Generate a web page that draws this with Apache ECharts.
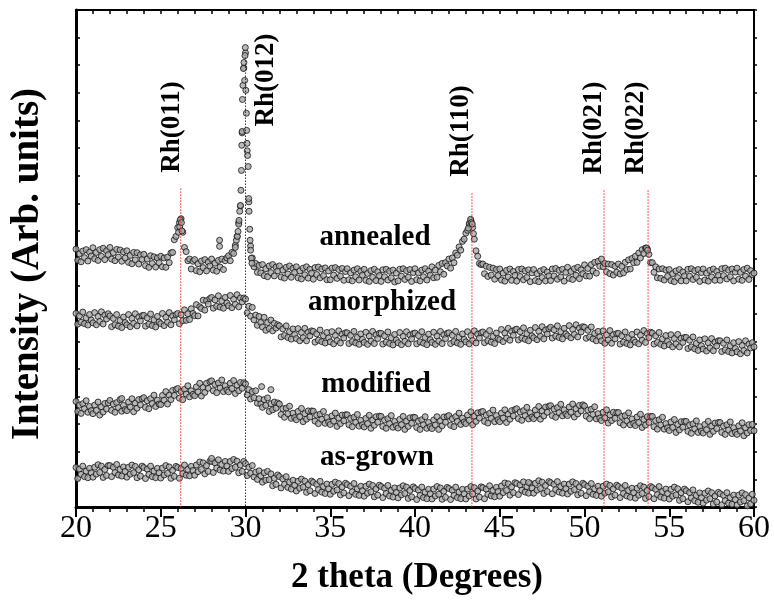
<!DOCTYPE html>
<html><head><meta charset="utf-8">
<script src="https://cdn.jsdelivr.net/npm/echarts@6/dist/echarts.min.js"></script>
<style>html,body{margin:0;padding:0;background:#fff}#c{width:774px;height:600px}</style>
</head><body><div id="c"></div>
<script>
// 2-theta sampling grid: 20.0 .. 60.0 in 0.1 degree steps
const thetaStart = 20.0;
const thetaStep = 0.1;
const xTicks = ['20','25','30','35','40','45','50','55','60'];

const annealedY = [
9.34,8.94,9.17,8.88,9.27,9.03,9.32,8.91,9.23,9.09,
9.39,8.99,9.22,8.93,9.32,9.08,9.37,8.96,9.28,9.14,
9.40,8.98,9.21,8.92,9.33,9.05,9.31,8.90,9.24,9.02,
9.28,8.86,9.11,8.81,9.22,8.95,9.21,8.80,9.13,8.97,
9.15,8.74,8.98,8.68,9.10,8.82,9.06,8.69,9.02,8.85,
9.08,8.70,9.02,8.68,9.05,8.85,9.20,9.22,9.68,9.80,
10.12,10.30,10.44,9.95,9.40,9.25,8.92,8.98,8.62,8.90,
8.96,8.56,8.81,8.52,8.91,8.67,8.96,8.55,8.87,8.73,
8.98,8.58,8.83,8.54,8.93,8.69,8.98,8.60,8.92,9.02,
9.10,8.92,9.22,9.18,9.48,9.80,10.30,10.90,13.55,15.90,
16.45,12.90,11.05,9.45,9.02,8.70,8.82,8.50,8.75,8.48,
8.78,8.38,8.63,8.34,8.73,8.49,8.78,8.37,8.69,8.55,
8.73,8.33,8.58,8.29,8.68,8.44,8.73,8.32,8.64,8.50,
8.70,8.30,8.55,8.26,8.65,8.41,8.70,8.29,8.61,8.47,
8.25,8.67,8.42,8.69,8.30,8.62,8.38,8.66,8.23,8.55,
8.23,8.65,8.40,8.67,8.28,8.60,8.36,8.64,8.21,8.53,
8.63,8.23,8.48,8.19,8.58,8.34,8.63,8.22,8.54,8.40,
8.61,8.21,8.46,8.17,8.56,8.32,8.61,8.20,8.52,8.38,
8.17,8.59,8.34,8.61,8.22,8.54,8.30,8.58,8.15,8.47,
8.19,8.61,8.36,8.63,8.24,8.56,8.32,8.60,8.17,8.49,
8.63,8.23,8.48,8.19,8.58,8.34,8.63,8.22,8.54,8.40,
8.70,8.30,8.58,8.32,8.75,8.52,8.82,8.43,8.85,8.73,
8.98,8.65,9.02,8.85,9.20,9.12,9.42,9.30,9.62,9.70,
9.92,10.02,10.25,10.38,10.12,9.70,9.28,9.08,8.82,8.78,
8.80,8.45,8.72,8.35,8.68,8.40,8.65,8.25,8.60,8.38,
8.62,8.22,8.47,8.18,8.57,8.33,8.62,8.21,8.53,8.39,
8.18,8.60,8.35,8.62,8.23,8.55,8.31,8.59,8.16,8.48,
8.60,8.20,8.45,8.16,8.55,8.31,8.60,8.19,8.51,8.37,
8.20,8.62,8.37,8.64,8.25,8.57,8.33,8.61,8.18,8.50,
8.68,8.28,8.53,8.24,8.63,8.39,8.68,8.27,8.59,8.45,
8.77,8.37,8.64,8.36,8.78,8.55,8.86,8.47,8.90,8.72,
8.98,8.70,8.82,8.52,8.80,8.45,8.78,8.40,8.72,8.50,
8.80,8.44,8.72,8.48,8.86,8.60,8.95,8.62,9.00,8.85,
9.08,8.86,9.20,9.02,9.32,9.18,9.38,9.36,9.15,8.85,
8.85,8.50,8.70,8.30,8.62,8.28,8.63,8.22,8.58,8.35,
8.60,8.20,8.45,8.16,8.55,8.31,8.60,8.19,8.51,8.37,
8.19,8.61,8.36,8.63,8.24,8.56,8.32,8.60,8.17,8.49,
8.62,8.22,8.47,8.18,8.57,8.33,8.62,8.21,8.53,8.39,
8.21,8.63,8.38,8.65,8.26,8.58,8.34,8.62,8.19,8.51,
8.65,8.25,8.50,8.21,8.60,8.36,8.65,8.24,8.56,8.42,
8.47];
// extra readings on the sharp annealed peaks: [2theta, intensity]
const annealedExtra = [
[29.40,9.40],[29.46,9.66],[29.52,9.80],[29.56,9.98],[29.60,10.24],[29.62,10.38],[29.66,10.71],
[29.70,10.92],[29.73,11.47],[29.76,12.19],[29.78,13.10],[29.80,13.60],[29.82,14.76],[29.85,15.27],
[29.88,15.88],[29.91,16.10],[29.95,15.45],[29.97,16.35],[29.99,16.64],[30.02,15.09],[30.05,14.26],
[30.07,13.64],[30.09,13.17],[30.12,12.73],[30.16,12.33],[30.19,11.17],[30.21,10.71],[30.25,10.06],
[30.27,9.66],[30.30,9.30],[30.34,9.01],[30.38,8.83],
[28.47,9.66],[28.47,9.44],
[26.05,9.95],[26.12,10.15],[26.15,10.40],[26.22,10.30],[26.25,10.00],
[43.15,10.10],[43.22,10.28],[43.28,10.42],[43.32,10.30],[43.38,10.25],[43.45,9.90],
[53.65,9.38],[53.72,9.30]];

const amorphizedY = [
7.01,6.62,6.92,6.69,7.06,6.64,6.85,6.59,6.97,6.77,
6.67,7.04,6.60,6.90,6.72,7.07,6.63,6.95,6.81,7.00,
6.92,6.53,6.83,6.60,6.97,6.55,6.76,6.50,6.88,6.68,
6.60,6.97,6.53,6.83,6.65,7.00,6.56,6.88,6.74,6.93,
6.94,6.55,6.85,6.62,6.99,6.57,6.78,6.52,6.90,6.70,
6.64,7.01,6.57,6.87,6.69,7.04,6.60,6.92,6.78,6.97,
7.01,6.64,6.96,6.75,7.14,6.76,7.00,6.79,7.18,7.01,
6.93,7.33,6.92,7.25,7.19,7.49,7.13,7.47,7.35,7.55,
7.59,7.20,7.50,7.27,7.65,7.24,7.46,7.20,7.59,7.39,
7.29,7.66,7.22,7.52,7.34,7.69,7.25,7.57,7.43,7.57,
7.53,7.03,7.27,6.91,7.23,6.78,6.95,6.58,6.90,6.68,
6.52,6.87,6.40,6.68,6.46,6.77,6.38,6.65,6.48,6.60,
6.56,6.16,6.45,6.21,6.56,6.14,6.35,6.08,6.45,6.24,
6.10,6.46,6.02,6.32,6.13,6.47,6.02,6.33,6.20,6.38,
6.36,5.97,6.27,6.04,6.41,5.99,6.20,5.94,6.32,6.12,
5.98,6.35,5.91,6.21,6.03,6.38,5.94,6.26,6.12,6.31,
6.31,5.92,6.22,5.99,6.36,5.94,6.15,5.89,6.27,6.07,
5.96,6.33,5.89,6.19,6.01,6.36,5.92,6.24,6.10,6.29,
6.29,5.90,6.20,5.97,6.34,5.92,6.13,5.87,6.25,6.05,
5.95,6.32,5.88,6.18,6.00,6.35,5.91,6.23,6.09,6.28,
6.30,5.91,6.21,5.98,6.35,5.93,6.14,5.88,6.26,6.06,
5.96,6.33,5.89,6.19,6.01,6.36,5.92,6.24,6.10,6.29,
6.31,5.92,6.22,5.99,6.36,5.94,6.15,5.89,6.27,6.07,
5.98,6.35,5.91,6.21,6.03,6.38,5.94,6.26,6.12,6.31,
6.34,5.95,6.25,6.02,6.39,5.97,6.18,5.92,6.30,6.10,
6.06,6.43,5.99,6.30,6.12,6.47,6.04,6.36,6.22,6.42,
6.44,6.05,6.35,6.12,6.49,6.07,6.28,6.02,6.40,6.20,
6.13,6.50,6.06,6.36,6.18,6.53,6.09,6.41,6.27,6.46,
6.51,6.12,6.42,6.19,6.56,6.14,6.35,6.09,6.47,6.27,
6.20,6.57,6.13,6.43,6.25,6.60,6.16,6.48,6.34,6.53,
6.51,6.11,6.40,6.16,6.52,6.09,6.29,6.02,6.36,6.16,
6.02,6.38,5.93,6.23,6.05,6.39,5.93,6.24,6.09,6.28,
6.29,5.90,6.20,5.97,6.34,5.92,6.13,5.87,6.25,6.05,
5.97,6.34,5.91,6.22,6.04,6.39,5.96,6.28,6.14,6.33,
6.30,5.90,6.20,5.96,6.32,5.89,6.09,5.83,6.21,6.00,
5.88,6.24,5.80,6.10,5.91,6.25,5.80,6.11,5.96,6.14,
6.14,5.74,6.04,5.80,6.16,5.73,5.93,5.67,6.05,5.84,
5.72,6.09,5.65,5.95,5.76,6.10,5.66,5.97,5.83,6.02,
6.02,5.63,5.93,5.69,6.05,5.63,5.84,5.58,5.95,5.74,
5.62,5.99,5.55,5.85,5.67,6.02,5.58,5.90,5.76,5.95,
5.80];

const modifiedY = [
3.82,3.46,3.69,3.39,3.74,3.56,3.85,3.43,3.64,3.49,
3.38,3.69,3.50,3.80,3.33,3.63,3.44,3.75,3.55,3.77,
3.86,3.50,3.73,3.43,3.78,3.60,3.89,3.47,3.68,3.53,
3.49,3.80,3.62,3.92,3.45,3.76,3.58,3.89,3.70,3.92,
3.96,3.61,3.85,3.56,3.92,3.75,4.05,3.64,3.87,3.73,
3.71,4.04,3.87,4.18,3.73,4.05,3.89,4.22,4.04,4.26,
4.29,3.94,4.18,3.89,4.26,4.09,4.39,3.99,4.21,4.08,
4.03,4.35,4.17,4.48,4.02,4.33,4.15,4.48,4.30,4.54,
4.57,4.21,4.44,4.14,4.49,4.31,4.60,4.18,4.39,4.24,
4.17,4.48,4.29,4.58,4.11,4.41,4.21,4.51,4.30,4.50,
4.46,4.06,4.25,3.91,4.18,3.96,4.21,3.76,3.92,3.73,
3.61,3.89,3.68,3.95,3.46,3.74,3.52,3.80,3.58,3.77,
3.73,3.35,3.56,3.25,3.58,3.38,3.65,3.21,3.40,3.24,
3.16,3.46,3.27,3.57,3.09,3.38,3.18,3.48,3.26,3.48,
3.47,3.11,3.33,3.02,3.36,3.18,3.46,3.03,3.24,3.08,
2.99,3.30,3.11,3.40,2.92,3.22,3.02,3.33,3.12,3.34,
3.34,2.98,3.21,2.91,3.25,3.07,3.35,2.93,3.14,2.98,
2.90,3.21,3.02,3.32,2.85,3.15,2.96,3.27,3.07,3.29,
3.28,2.92,3.15,2.85,3.20,3.02,3.31,2.89,3.10,2.95,
2.86,3.17,2.98,3.28,2.81,3.11,2.92,3.23,3.03,3.25,
3.24,2.88,3.11,2.81,3.16,2.98,3.27,2.85,3.06,2.91,
2.84,3.15,2.97,3.27,2.81,3.12,2.94,3.26,3.07,3.28,
3.31,2.96,3.20,2.91,3.27,3.10,3.40,2.99,3.22,3.08,
3.02,3.33,3.14,3.45,2.98,3.29,3.10,3.41,3.22,3.44,
3.46,3.10,3.33,3.04,3.39,3.21,3.51,3.09,3.31,3.16,
3.09,3.40,3.22,3.52,3.06,3.36,3.18,3.49,3.30,3.53,
3.56,3.20,3.44,3.14,3.49,3.31,3.61,3.19,3.41,3.26,
3.20,3.51,3.33,3.64,3.18,3.48,3.30,3.62,3.43,3.65,
3.67,3.31,3.55,3.25,3.60,3.42,3.72,3.30,3.52,3.37,
3.31,3.62,3.43,3.73,3.26,3.56,3.37,3.68,3.48,3.70,
3.66,3.29,3.51,3.20,3.54,3.35,3.63,3.19,3.38,3.22,
3.13,3.43,3.23,3.52,3.04,3.33,3.13,3.43,3.21,3.42,
3.42,3.05,3.28,2.97,3.31,3.12,3.41,2.98,3.19,3.03,
2.95,3.26,3.06,3.36,2.88,3.17,2.97,3.27,3.06,3.28,
3.28,2.91,3.13,2.82,3.16,2.97,3.25,2.82,3.02,2.87,
2.77,3.08,2.88,3.17,2.70,2.99,2.79,3.09,2.89,3.10,
3.10,2.74,2.97,2.67,3.01,2.83,3.12,2.70,2.91,2.75,
2.68,2.99,2.80,3.10,2.63,2.93,2.74,3.04,2.84,3.06,
3.06,2.70,2.93,2.63,2.98,2.79,3.08,2.66,2.87,2.71,
2.63,2.94,2.75,3.05,2.58,2.87,2.68,2.98,2.77,2.99,
2.76];
const modifiedExtra = [[22.7,3.93],[30.95,4.36],[31.5,4.25]];

const asGrownY = [
1.43,1.03,1.37,1.18,1.48,1.10,1.30,1.06,1.40,1.24,
1.08,1.44,1.19,1.53,1.25,1.48,1.07,1.36,1.14,1.50,
1.50,1.10,1.44,1.25,1.54,1.16,1.36,1.12,1.45,1.29,
1.08,1.44,1.19,1.52,1.24,1.47,1.06,1.35,1.12,1.48,
1.43,1.03,1.37,1.18,1.48,1.10,1.30,1.06,1.40,1.24,
1.05,1.41,1.16,1.50,1.22,1.45,1.04,1.33,1.11,1.47,
1.43,1.04,1.39,1.21,1.52,1.15,1.36,1.13,1.47,1.32,
1.15,1.52,1.28,1.63,1.36,1.60,1.20,1.50,1.29,1.66,
1.65,1.25,1.60,1.41,1.71,1.34,1.54,1.30,1.65,1.49,
1.29,1.65,1.39,1.72,1.44,1.66,1.24,1.52,1.29,1.65,
1.57,1.14,1.44,1.22,1.50,1.09,1.26,1.00,1.31,1.13,
0.90,1.24,0.97,1.29,0.99,1.20,0.77,1.04,0.82,1.16,
1.10,0.69,1.02,0.82,1.10,0.71,0.90,0.65,0.97,0.79,
0.58,0.93,0.68,1.01,0.72,0.94,0.53,0.81,0.59,0.94,
0.89,0.49,0.82,0.63,0.93,0.54,0.74,0.49,0.83,0.66,
0.46,0.82,0.57,0.90,0.62,0.85,0.44,0.73,0.51,0.86,
0.81,0.41,0.75,0.55,0.85,0.46,0.66,0.42,0.75,0.59,
0.39,0.75,0.50,0.83,0.55,0.78,0.37,0.66,0.43,0.79,
0.74,0.34,0.68,0.49,0.78,0.40,0.60,0.36,0.69,0.53,
0.33,0.69,0.44,0.77,0.49,0.72,0.31,0.60,0.37,0.73,
0.67,0.27,0.61,0.42,0.72,0.34,0.54,0.30,0.64,0.48,
0.29,0.65,0.40,0.74,0.46,0.69,0.28,0.57,0.35,0.71,
0.67,0.27,0.61,0.42,0.72,0.34,0.54,0.30,0.64,0.48,
0.29,0.65,0.40,0.74,0.47,0.70,0.29,0.58,0.36,0.73,
0.70,0.30,0.65,0.46,0.77,0.40,0.60,0.37,0.71,0.56,
0.39,0.76,0.52,0.87,0.60,0.84,0.43,0.73,0.52,0.88,
0.85,0.45,0.80,0.61,0.91,0.54,0.74,0.50,0.85,0.69,
0.50,0.86,0.61,0.95,0.67,0.90,0.49,0.78,0.56,0.92,
0.88,0.48,0.82,0.63,0.92,0.54,0.74,0.50,0.83,0.67,
0.47,0.83,0.57,0.91,0.63,0.85,0.44,0.73,0.50,0.86,
0.81,0.41,0.75,0.55,0.85,0.46,0.66,0.42,0.75,0.59,
0.39,0.75,0.50,0.83,0.55,0.78,0.37,0.66,0.43,0.79,
0.74,0.34,0.68,0.49,0.78,0.40,0.60,0.35,0.68,0.52,
0.32,0.68,0.43,0.77,0.49,0.72,0.31,0.60,0.38,0.74,
0.70,0.30,0.64,0.45,0.74,0.36,0.56,0.32,0.65,0.49,
0.29,0.64,0.39,0.72,0.44,0.66,0.24,0.52,0.30,0.65,
0.59,0.19,0.52,0.33,0.62,0.23,0.42,0.17,0.51,0.34,
0.14,0.50,0.25,0.58,0.30,0.52,0.11,0.40,0.18,0.53,
0.48,0.08,0.42,0.23,0.52,0.14,0.34,0.10,0.43,0.27,
0.07,0.43,0.18,0.51,0.23,0.45,0.04,0.33,0.11,0.46,
0.24];
const asGrownExtra = [[28.0,1.76],[46.7,0.89]];

// reflection markers
const peakNames = ['Rh(011)','Rh(012)','Rh(110)','Rh(021)','Rh(022)'];
const peakPos   = [26.18, 30.0, 43.36, 51.15, 53.75];
const peakTop   = [11.54, 16.28, 11.36, 11.47, 11.47];
const sampleNames = ['annealed','amorphized','modified','as-grown'];

function toPairs(ys, extra){
  const out = ys.map((v,i)=>[+(thetaStart + i*thetaStep).toFixed(2), v]);
  return out.concat(extra || []);
}

const chart = echarts.init(document.getElementById('c'), null, {renderer:'canvas'});
const serif = '"Liberation Serif","Times New Roman",serif';
const pointStyle = {color:'#a9a9a9', borderColor:'#111111', borderWidth:1};
function scat(name, data){
  return {name, type:'scatter', data, symbol:'circle', symbolSize:6,
          itemStyle:pointStyle, silent:true, z:2, animation:false};
}
const series = [
  scat(sampleNames[0], toPairs(annealedY, annealedExtra)),
  scat(sampleNames[1], toPairs(amorphizedY)),
  scat(sampleNames[2], toPairs(modifiedY, modifiedExtra)),
  scat(sampleNames[3], toPairs(asGrownY, asGrownExtra))
];
peakPos.forEach((p,i)=>{
  series.push({type:'line', data:[[p, peakTop[i]],[p, 0]], symbol:'none', silent:true, z:5,
    animation:false, lineStyle:{color: i===1 ? '#b00000' : '#ff2020', width:1, type:[1.5,1.5]}});
});

const labelPos = [[172,127],[266,80],[461,131],[594,128],[636,128]];
const sampleLabelPos = [[375,238],[382,303],[376,385],[377,458]];
const graphics = [];
peakNames.forEach((t,i)=>{
  graphics.push({type:'text', x:labelPos[i][0], y:labelPos[i][1], rotation:Math.PI/2,
    style:{text:t, font:'bold 27px '+serif, fill:'#000', align:'center', verticalAlign:'middle'}});
});
sampleNames.forEach((t,i)=>{
  graphics.push({type:'text', x:sampleLabelPos[i][0], y:sampleLabelPos[i][1],
    style:{text:t, font:'bold 29px '+serif, fill:'#000', align:'center', verticalAlign:'middle'}});
});
graphics.push({type:'text', x:417, y:578,
  style:{text:'2 theta (Degrees)', font:'bold 35px '+serif, fill:'#000', align:'center', verticalAlign:'middle'}});
graphics.push({type:'text', x:28, y:264, rotation:Math.PI/2,
  style:{text:'Intensity (Arb. units)', font:'bold 39px '+serif, fill:'#000', align:'center', verticalAlign:'middle'}});

const option = {
  backgroundColor:'#fff',
  animation:false,
  grid:{left:76, right:20, top:10, bottom:93, containLabel:false},
  xAxis:[
    {type:'value', min:20, max:60, interval:5, position:'bottom',
     axisLine:{show:true, onZero:false, lineStyle:{color:'#000', width:3}},
     axisTick:{show:true, inside:false, length:10, lineStyle:{color:'#000', width:2}},
     minorTick:{show:true, splitNumber:5, length:5, lineStyle:{color:'#000', width:1.5}},
     splitLine:{show:false},
     axisLabel:{show:true, margin:6, fontFamily:serif, fontSize:32, color:'#000',
       formatter:(v)=>{ const s=String(v); return xTicks.indexOf(s)>=0 ? s : ''; }}},
    {type:'value', min:20, max:60, interval:1, position:'top',
     axisLine:{show:true, onZero:false, lineStyle:{color:'#000', width:2}},
     axisTick:{show:true, inside:true, length:4, lineStyle:{color:'#000', width:1.5}},
     splitLine:{show:false}, axisLabel:{show:false}}
  ],
  yAxis:[
    {type:'value', min:0, max:18, interval:1, position:'left',
     axisLine:{show:true, onZero:false, lineStyle:{color:'#000', width:3}},
     axisTick:{show:true, inside:true, length:4, lineStyle:{color:'#000', width:1.5}},
     splitLine:{show:false}, axisLabel:{show:false}},
    {type:'value', min:0, max:18, interval:1, position:'right',
     axisLine:{show:true, onZero:false, lineStyle:{color:'#000', width:2}},
     axisTick:{show:true, inside:false, length:3, lineStyle:{color:'#000', width:1.5}},
     splitLine:{show:false}, axisLabel:{show:false}}
  ],
  series:series,
  graphic:graphics
};
chart.setOption(option);
[annealedY, amorphizedY, modifiedY, asGrownY].forEach((a,k)=>{
  if (a.length !== 401) console.error('length mismatch', k, a.length);
});
</script>
</body></html>
